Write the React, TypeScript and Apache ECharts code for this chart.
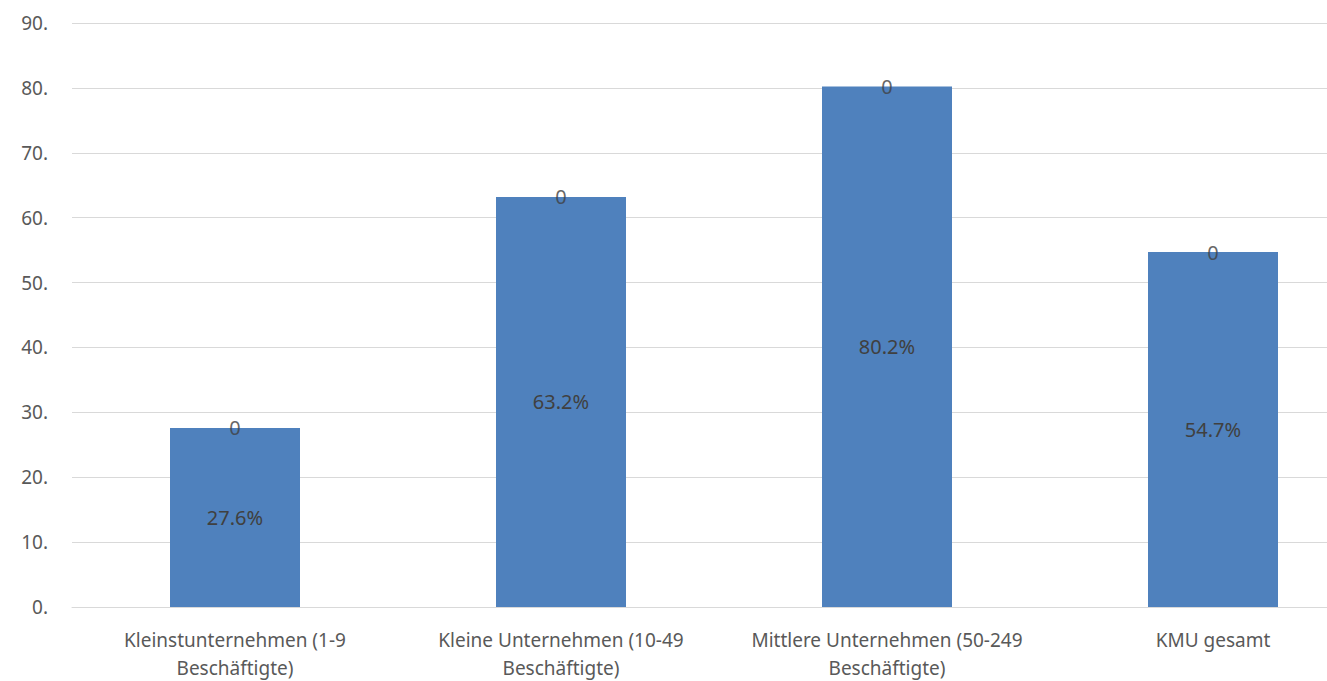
import React, { useEffect, useRef } from "react";
import * as echarts from "echarts";

const categories = [
  "Kleinstunternehmen (1-9\nBeschäftigte)",
  "Kleine Unternehmen (10-49\nBeschäftigte)",
  "Mittlere Unternehmen (50-249\nBeschäftigte)",
  "KMU gesamt",
];
const values = [27.6, 63.2, 80.2, 54.7];
const topLabels = ["0", "0", "0", "0"];
const yTicks = { min: 0, max: 90, interval: 10 };

const FONT = "Noto Sans";
const TEXT = "#595959";

export default function App() {
  const ref = useRef<HTMLDivElement>(null);
  useEffect(() => {
    const chart = echarts.init(ref.current!, undefined, { renderer: "svg" });
    chart.setOption({
      animation: false,
      backgroundColor: "#ffffff",
      grid: {
        left: 72,
        top: 23,
        width: 1304,
        bottom: 74,
        containLabel: false,
        outerBoundsMode: "none",
      },
      xAxis: {
        type: "category",
        data: categories,
        axisLine: { show: true, lineStyle: { color: "#d9d9d9", width: 1 } },
        axisTick: { show: false },
        axisLabel: {
          color: TEXT,
          fontFamily: FONT,
          fontSize: 19,
          lineHeight: 28,
          margin: 19,
          interval: 0,
        },
      },
      yAxis: {
        type: "value",
        min: yTicks.min,
        max: yTicks.max,
        interval: yTicks.interval,
        axisLine: { show: false },
        axisTick: { show: false },
        splitLine: { lineStyle: { color: "#d9d9d9", width: 1 } },
        axisLabel: {
          color: TEXT,
          fontFamily: FONT,
          fontSize: 19,
          margin: 24,
          formatter: (v: number) => v + ".",
        },
      },
      series: [
        {
          type: "bar",
          data: values,
          barWidth: 130,
          itemStyle: { color: "#4f81bd" },
          label: {
            show: true,
            position: "inside",
            color: "#404040",
            fontFamily: FONT,
            fontSize: 20,
            formatter: (p: any) => p.value.toFixed(1) + "%",
          },
        },
        {
          type: "scatter",
          data: values,
          symbolSize: 0,
          silent: true,
          label: {
            show: true,
            position: "inside",
            color: "#404040",
            fontFamily: FONT,
            fontSize: 20,
            formatter: (p: any) => topLabels[p.dataIndex],
          },
        },
      ],
    });
    return () => chart.dispose();
  }, []);
  return (
    <div
      ref={ref}
      style={{ position: "absolute", left: 0, top: 0, width: 1327, height: 681, overflow: "hidden" }}
    />
  );
}
